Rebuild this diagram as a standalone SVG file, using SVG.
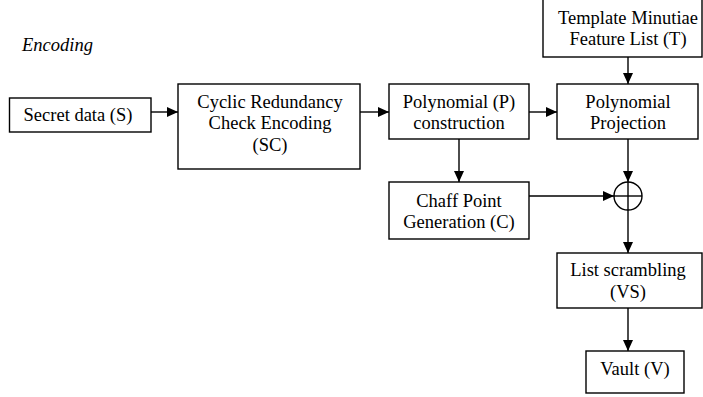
<svg xmlns="http://www.w3.org/2000/svg" width="703" height="397" viewBox="0 0 703 397">
<style>
.box{fill:#fff;stroke:#000;stroke-width:1.4}
.t{font-family:"Liberation Serif","Times New Roman",serif;font-size:18.5px;fill:#000;text-anchor:middle}
.c{stroke:#000;stroke-width:1.4;fill:none}
</style>
<defs>
<marker id="ah" markerUnits="userSpaceOnUse" markerWidth="12" markerHeight="10" refX="11" refY="5" orient="auto">
<path d="M0,0 L11,5 L0,10 Z" fill="#000"/>
</marker>
</defs>
<text x="22" y="51" class="t" style="text-anchor:start;font-style:italic">Encoding</text>
<g id="secret"><rect class="box" x="9.5" y="98" width="141.5" height="34"/><text class="t" x="78" y="121">Secret data (S)</text></g>
<g id="crc"><rect class="box" x="178" y="84" width="182" height="85"/><text class="t" x="270" y="108">Cyclic Redundancy</text><text class="t" x="270" y="129">Check Encoding</text><text class="t" x="270" y="151">(SC)</text></g>
<g id="poly"><rect class="box" x="389" y="84" width="140" height="55"/><text class="t" x="459" y="108">Polynomial (P)</text><text class="t" x="459" y="129">construction</text></g>
<g id="proj"><rect class="box" x="557" y="84" width="141" height="55"/><text class="t" x="628" y="108">Polynomial</text><text class="t" x="628" y="129">Projection</text></g>
<g id="template"><rect class="box" x="543" y="-1" width="159" height="58"/><text class="t" x="628" y="24">Template Minutiae</text><text class="t" x="628" y="45">Feature List (T)</text></g>
<g id="chaff"><rect class="box" x="389" y="182" width="140" height="57"/><text class="t" x="459" y="207">Chaff Point</text><text class="t" x="459" y="228">Generation (C)</text></g>
<g id="xor"><circle class="c" cx="628" cy="196" r="14"/><line class="c" x1="614" y1="196" x2="642" y2="196"/><line class="c" x1="628" y1="182" x2="628" y2="210"/></g>
<g id="scramble"><rect class="box" x="557" y="253" width="145" height="55"/><text class="t" x="628" y="276">List scrambling</text><text class="t" x="628" y="298">(VS)</text></g>
<g id="vault"><rect class="box" x="586" y="351" width="98" height="42"/><text class="t" x="635" y="375">Vault (V)</text></g>
<g id="connectors">
<line class="c" x1="151" y1="112" x2="178" y2="112" marker-end="url(#ah)"/>
<line class="c" x1="360" y1="112" x2="389" y2="112" marker-end="url(#ah)"/>
<line class="c" x1="529" y1="112" x2="557" y2="112" marker-end="url(#ah)"/>
<line class="c" x1="628" y1="57" x2="628" y2="84" marker-end="url(#ah)"/>
<line class="c" x1="628" y1="139" x2="628" y2="182" marker-end="url(#ah)"/>
<line class="c" x1="459" y1="139" x2="459" y2="182" marker-end="url(#ah)"/>
<line class="c" x1="529" y1="196" x2="614" y2="196" marker-end="url(#ah)"/>
<line class="c" x1="628" y1="210" x2="628" y2="253" marker-end="url(#ah)"/>
<line class="c" x1="628" y1="308" x2="628" y2="351" marker-end="url(#ah)"/>
</g>
</svg>
